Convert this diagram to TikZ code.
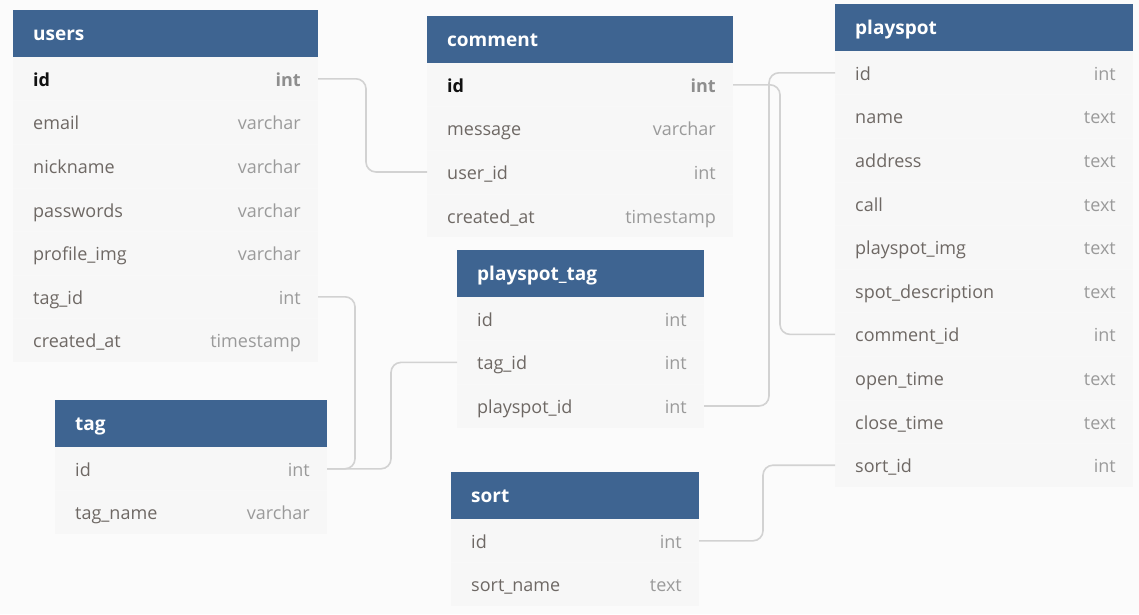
\documentclass[tikz,border=0pt]{standalone}
\usepackage{fontspec}
\setmainfont{Open Sans}
\usetikzlibrary{calc}
\definecolor{hdrblue}{HTML}{3E6491}
\definecolor{rowbg}{HTML}{F7F7F7}
\definecolor{pagebg}{HTML}{FBFBFB}
\definecolor{namec}{HTML}{6E6864}
\definecolor{typec}{HTML}{9A9A9A}
\definecolor{pkc}{HTML}{111111}
\definecolor{pktc}{HTML}{8E8E8E}
\definecolor{connc}{HTML}{D2D2D2}
\definecolor{sepc}{HTML}{F8F8F8}
\newcommand\pkn[1]{{\color{pkc}\bfseries #1}}
\newcommand\pkt[1]{{\color{pktc}\bfseries #1}}
\tikzset{
  hdrbox/.style={fill=hdrblue, draw=none, minimum height=47pt, inner sep=0pt, outer sep=0pt},
  hdrtext/.style={text=white, font=\fontsize{19}{22}\selectfont\bfseries, inner sep=0pt, text height=0.75em, text depth=0.25em},
  rowbox/.style={fill=rowbg, draw=none, minimum height=43.6pt, inner sep=0pt, outer sep=0pt},
  fname/.style={text=namec, font=\fontsize{18}{21}\selectfont, inner sep=0pt, text height=0.75em, text depth=0.25em},
  ftype/.style={text=typec, font=\fontsize{18}{21}\selectfont, inner sep=0pt, text height=0.75em, text depth=0.25em},
  conn/.style={draw=connc, line width=1.6pt, rounded corners=10pt},
}
\newcommand\dbtable[6]{%
  \node[hdrbox, minimum width=#4pt, anchor=north west] (#1) at (#2,#3) {};
  \node[hdrtext, anchor=west] (#1-title) at ([xshift=20pt, yshift=-4.5pt]#1.west) {#5};
  \foreach \f/\t [count=\i] in {#6} {%
    \pgfmathsetmacro\rowtop{#3+47+43.6*(\i-1)}
    \node[rowbox, minimum width=#4pt, anchor=north west] (#1-\i) at (#2,\rowtop) {};
    \ifnum\i>1
      \draw[sepc, line width=0.6pt] (#1-\i.north west) -- (#1-\i.north east);
    \fi
    \node[fname, anchor=west] (#1-\i-n) at ([xshift=20pt, yshift=-5pt]#1-\i.west) {\f};
    \node[ftype, anchor=east] (#1-\i-t) at ([xshift=-17pt, yshift=-5pt]#1-\i.east) {\t};
  }%
}
\begin{document}
\begin{tikzpicture}[x=1pt,y=-1pt]
\fill[pagebg] (0,0) rectangle (1139,614);
\useasboundingbox (0,0) rectangle (1139,614);

\dbtable{users}{13}{10}{305}{users}{\pkn{id}/\pkt{int}, email/varchar, nickname/varchar, passwords/varchar, profile\_img/varchar, tag\_id/int, created\_at/timestamp}
\dbtable{comment}{427}{16}{306}{comment}{\pkn{id}/\pkt{int}, message/varchar, user\_id/int, created\_at/timestamp}
\dbtable{playspot}{835}{4}{298}{playspot}{id/int, name/text, address/text, call/text, playspot\_img/text, spot\_description/text, comment\_id/int, open\_time/text, close\_time/text, sort\_id/int}
\dbtable{pstag}{457}{250}{247}{playspot\_tag}{id/int, tag\_id/int, playspot\_id/int}
\dbtable{tag}{55}{400}{272}{tag}{id/int, tag\_name/varchar}
\dbtable{sort}{451}{472}{248}{sort}{id/int, sort\_name/text}

\draw[conn] (users-1.east) -- ([xshift=48pt]users-1.east) |- (comment-3.west);
\draw[conn] (comment-1.east) -- ([xshift=47pt]comment-1.east) |- (playspot-7.west);
\draw[conn] (playspot-1.west) -- ([xshift=-66pt]playspot-1.west) |- (pstag-3.east);
\draw[conn] (users-6.east) -- ([xshift=37pt]users-6.east) |- (tag-1.east);
\draw[conn] (tag-1.east) -- ([xshift=64pt]tag-1.east) |- (pstag-2.west);
\draw[conn] (sort-1.east) -- ([xshift=64pt]sort-1.east) |- (playspot-10.west);
\end{tikzpicture}
\end{document}
